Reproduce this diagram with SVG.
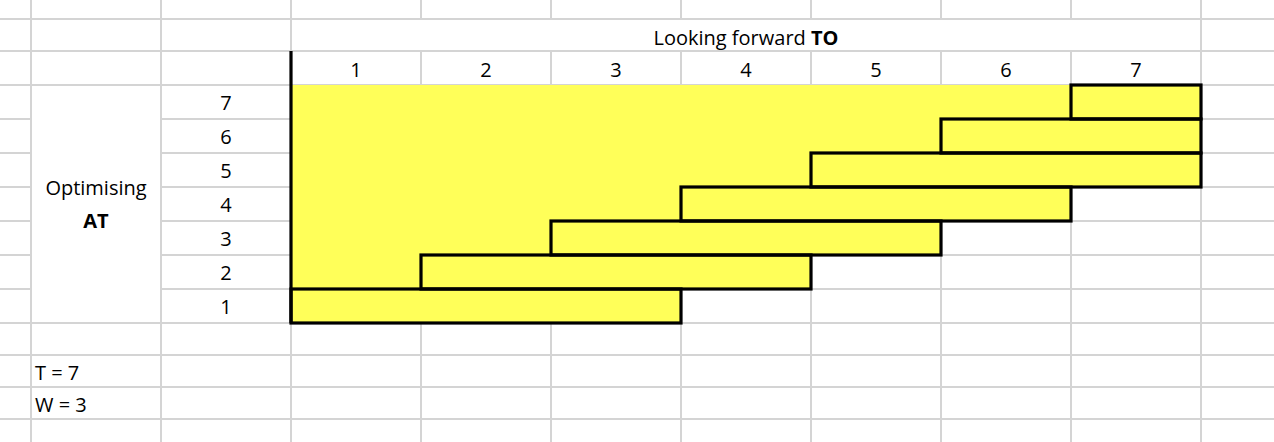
<svg xmlns="http://www.w3.org/2000/svg" width="1274" height="442" viewBox="0 0 1274 442">
<style>
.g{stroke:#d4d4d4;stroke-width:2;fill:none}
.b{stroke:#000;stroke-width:3.2;fill:none}
text{font-family:"Open Sans","Liberation Sans",sans-serif;font-size:20px;fill:#000}
.c{text-anchor:middle}
.bold{font-weight:bold}
</style>
<rect width="1274" height="442" fill="#fff"/>
<g id="grid">
<path class="g" d="M0 19H1274M0 51H1274M0 85H1274M0 119H1274M0 153H1274M0 187H1274M0 221H1274M0 255H1274M0 289H1274M0 323H1274M0 355H1274M0 387H1274M0 419H1274"/>
<path class="g" d="M31 0V442M161 0V442M291 0V442M421 0V442M551 0V442M681 0V442M811 0V442M941 0V442M1071 0V442M1201 0V442"/>
<rect x="292" y="20" width="908" height="30" fill="#fff"/>
<rect x="32" y="86" width="128" height="236" fill="#fff"/>
</g>
<g id="yellow-area">
<polygon points="291,85 1201,85 1201,187 1071,187 1071,221 941,221 941,255 811,255 811,289 681,289 681,323 291,323" fill="#ffff59"/>
</g>
<g id="axis">
<path class="b" d="M291 51V323"/>
</g>
<g id="window-7"><rect class="b" x="1071" y="85" width="130" height="34"/></g>
<g id="window-6"><rect class="b" x="941" y="119" width="260" height="34"/></g>
<g id="window-5"><rect class="b" x="811" y="153" width="390" height="34"/></g>
<g id="window-4"><rect class="b" x="681" y="187" width="390" height="34"/></g>
<g id="window-3"><rect class="b" x="551" y="221" width="390" height="34"/></g>
<g id="window-2"><rect class="b" x="421" y="255" width="390" height="34"/></g>
<g id="window-1"><rect class="b" x="291" y="289" width="390" height="34"/></g>
<g id="header">
<text class="c" x="746" y="45">Looking forward <tspan class="bold">TO</tspan></text>
<text class="c" x="356" y="77">1</text>
<text class="c" x="486" y="77">2</text>
<text class="c" x="616" y="77">3</text>
<text class="c" x="746" y="77">4</text>
<text class="c" x="876" y="77">5</text>
<text class="c" x="1006" y="77">6</text>
<text class="c" x="1136" y="77">7</text>
</g>
<g id="row-labels">
<text class="c" x="96" y="195">Optimising</text>
<text class="c bold" x="96" y="228">AT</text>
<text class="c" x="226" y="110">7</text>
<text class="c" x="226" y="144">6</text>
<text class="c" x="226" y="178">5</text>
<text class="c" x="226" y="212">4</text>
<text class="c" x="226" y="246">3</text>
<text class="c" x="226" y="280">2</text>
<text class="c" x="226" y="314">1</text>
</g>
<g id="params">
<text x="35" y="380">T = 7</text>
<text x="35" y="412">W = 3</text>
</g>
</svg>
